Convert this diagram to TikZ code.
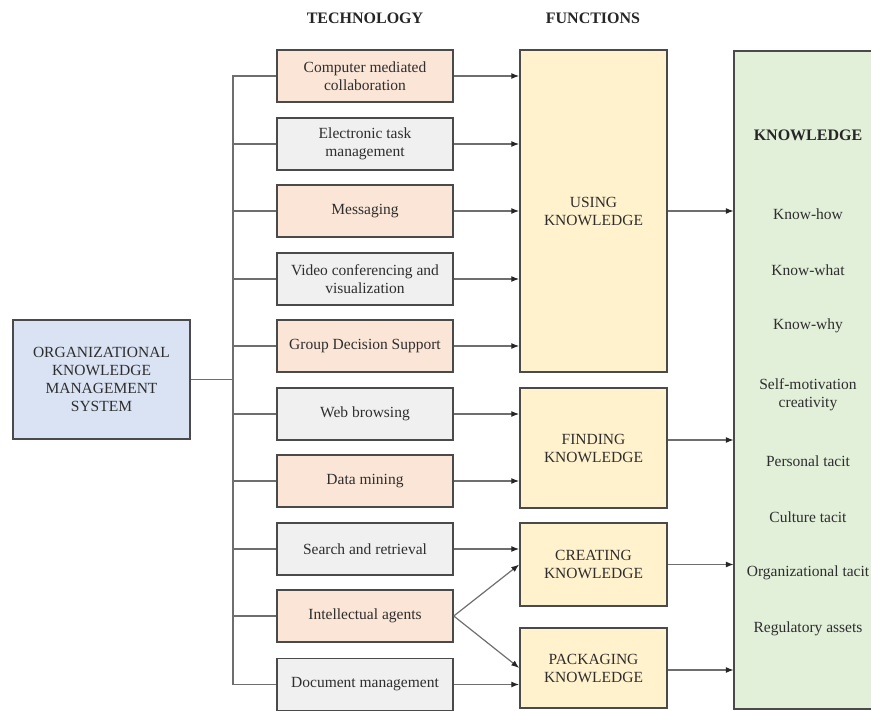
\documentclass[tikz,border=0pt]{standalone}
\usepackage{fontspec}
\setmainfont{Liberation Serif}
\usetikzlibrary{arrows.meta,calc}
\definecolor{peach}{HTML}{FBE5D6}
\definecolor{lgray}{HTML}{F0F0F0}
\definecolor{lblue}{HTML}{DAE3F3}
\definecolor{lyellow}{HTML}{FFF2CC}
\definecolor{lgreen}{HTML}{E2EFD9}
\definecolor{bordc}{HTML}{4A4A4A}
\definecolor{linec}{HTML}{6E6E6E}
\definecolor{txtc}{HTML}{2E2E2E}
\tikzset{
  box/.style={draw=bordc, line width=1.5pt, inner sep=0pt, align=center, text=txtc,
    font=\rmfamily\fontsize{15.5}{18}\selectfont},
  techbox/.style={box, minimum width=176pt, minimum height=52pt},
  peachbox/.style={techbox, fill=peach},
  graybox/.style={techbox, fill=lgray},
  funcbox/.style={box, fill=lyellow, minimum width=147pt},
  conn/.style={draw=linec, line width=1.2pt},
  arr/.style={conn, -{Latex[length=8pt,width=6pt,color=black!85]}},
  hdr/.style={font=\rmfamily\bfseries\fontsize{16}{18}\selectfont, text=black!85},
  ktext/.style={align=center, text=txtc, font=\rmfamily\fontsize{15.5}{18}\selectfont}
}
\begin{document}
\begin{tikzpicture}[x=1pt,y=-1pt]
\useasboundingbox (0,0) rectangle (871,711);
% headers
\node[hdr] (h1) at (365,18) {TECHNOLOGY};
\node[hdr] (h2) at (593,18) {FUNCTIONS};
% left box
\node[box, fill=lblue, minimum width=177pt, minimum height=119pt] (org) at (101.5,379.5)
  {ORGANIZATIONAL\\KNOWLEDGE\\MANAGEMENT\\SYSTEM};
% technology boxes
\node[peachbox] (t1) at (365,76) {Computer mediated\\collaboration};
\node[graybox] (t2) at (365,144) {Electronic task\\management};
\node[peachbox] (t3) at (365,211) {Messaging};
\node[graybox] (t4) at (365,279) {Video conferencing and\\visualization};
\node[peachbox] (t5) at (365,346) {Group Decision Support};
\node[graybox] (t6) at (365,414) {Web browsing};
\node[peachbox] (t7) at (365,481) {Data mining};
\node[graybox] (t8) at (365,549) {Search and retrieval};
\node[peachbox] (t9) at (365,616) {Intellectual agents};
\node[graybox] (t10) at (365,684.5) {Document management};
% function boxes
\node[funcbox, minimum height=322pt] (using) at (593.5,211) {USING\\KNOWLEDGE};
\node[funcbox, minimum height=120pt] (finding) at (593.5,448) {FINDING\\KNOWLEDGE};
\node[funcbox, minimum height=83pt] (creating) at (593.5,564.5) {CREATING\\KNOWLEDGE};
\node[funcbox, minimum height=80pt] (packaging) at (593.5,668) {PACKAGING\\KNOWLEDGE};
% knowledge box (right side runs off the picture)
\node[fill=lgreen, inner sep=0pt, minimum width=220pt, minimum height=658pt] (know) at (844,380) {};
\draw[draw=bordc, line width=1.5pt] (know.north east) -- (know.north west) -- (know.south west) -- (know.south east);
\node[ktext, font=\rmfamily\bfseries\fontsize{16}{18}\selectfont, text=black!85] (k0) at (808,135) {KNOWLEDGE};
\node[ktext] (k1) at (808,214) {Know-how};
\node[ktext] (k2) at (808,270) {Know-what};
\node[ktext] (k3) at (808,326) {Know-why};
\node[ktext] (k4) at (808,395) {Self-motivation\\creativity};
\node[ktext] (k5) at (808,461) {Personal tacit};
\node[ktext] (k6) at (808,517) {Culture tacit};
\node[ktext] (k7) at (808,573) {Organizational tacit};
\node[ktext] (k8) at (808,629) {Regulatory assets};
% trunk
\coordinate (trtop) at (233,76);
\coordinate (trbot) at (233,684.5);
\draw[conn] (t1.west) -- (trtop) -- (trbot) -- (t10.west);
\draw[conn] (org.east) -- (org.east -| trtop);
\foreach \i in {2,...,9} {\draw[conn] (t\i.west) -- (t\i.west -| trtop);}
% tech -> functions
\foreach \i in {1,...,5} {\draw[arr] (t\i.east) -- (t\i.east -| using.west);}
\foreach \i in {6,7} {\draw[arr] (t\i.east) -- (t\i.east -| finding.west);}
\draw[arr] (t8.east) -- (t8.east -| creating.west);
\draw[arr] (t9.east) -- (creating.west);
\draw[arr] (t9.east) -- (packaging.west);
\draw[arr] (t10.east) -- (t10.east -| packaging.west);
% functions -> knowledge
\coordinate (fo) at ($(finding.east)+(0,-8)$);
\coordinate (po) at ($(packaging.east)+(0,2)$);
\draw[arr] (using.east) -- (using.east -| know.west);
\draw[arr] (fo) -- (fo -| know.west);
\draw[arr] (creating.east) -- (creating.east -| know.west);
\draw[arr] (po) -- (po -| know.west);
\end{tikzpicture}
\end{document}
